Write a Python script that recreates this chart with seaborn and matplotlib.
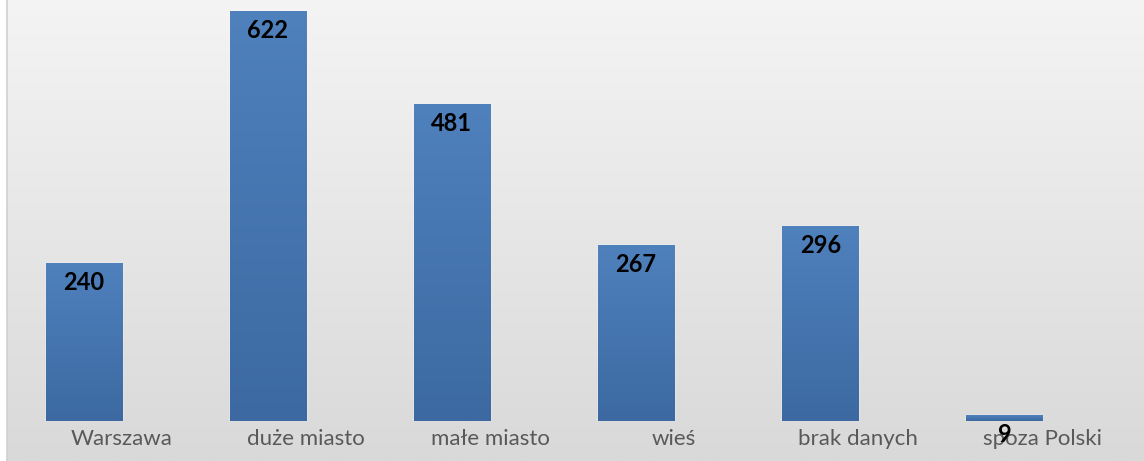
import numpy as np
import pandas as pd
import matplotlib
matplotlib.use('Agg')
import matplotlib.pyplot as plt
import seaborn as sns
from matplotlib.colors import LinearSegmentedColormap

# dane
kategorie = ['Warszawa', 'duże miasto', 'małe miasto', 'wieś', 'brak danych', 'spoza Polski']
liczby = [240, 622, 481, 267, 296, 9]

df = pd.DataFrame({'kategoria': kategorie, 'liczba': liczby})

sns.set_style('white')
plt.rcParams['font.family'] = ['Lato', 'DejaVu Sans']

fig = plt.figure(figsize=(11.44, 4.61), dpi=100)
fig.patch.set_facecolor('white')

# tlo z gradientem
bg = fig.add_axes([7 / 1144, 0, 1 - 7 / 1144, 1], zorder=0)
grad = np.linspace(0, 1, 256).reshape(-1, 1)
bg_cmap = LinearSegmentedColormap.from_list('bg', ['#f4f4f4', '#d9d9d9'])
bg.imshow(grad, aspect='auto', cmap=bg_cmap, extent=[0, 1, 1, 0])
bg.set_axis_off()
fig.add_artist(plt.Line2D([6.5 / 1144] * 2, [0, 1], color='#d0d0d0', lw=1.2))

# wykres
x0 = 7 / 1144
ax = fig.add_axes([x0, 40 / 461, 1 - x0, 1 - 40 / 461], zorder=1)
ax.patch.set_alpha(0)

sns.barplot(data=df, x='kategoria', y='liczba', color='#4a7ab5', width=0.413, ax=ax,
            saturation=1)

# gradient na slupkach
bar_cmap = LinearSegmentedColormap.from_list('bar', ['#3c69a1', '#4f81bd'])
for p in ax.patches:
    x, w, h = p.get_x(), p.get_width(), p.get_height()
    im = ax.imshow(grad, aspect='auto', cmap=bar_cmap,
                   extent=[x, x + w, 0, h], origin='lower', zorder=2)
    im.set_clip_path(p)
    ax.annotate(f'{int(h)}', (x + w / 2, h), xytext=(0, -6), textcoords='offset points',
                ha='center', va='top', fontsize=17, fontweight='bold', color='black',
                zorder=5)

ax.set_xlim(-0.416, 5.758)
ax.set_ylim(0, 421 / 0.6592)
ax.set_xticks(np.arange(len(kategorie)) + 0.207)
ax.set_xticklabels(kategorie, fontsize=16, color='#595959')
ax.tick_params(axis='x', length=0, pad=6)
ax.set_yticks([])
ax.set_xlabel('')
ax.set_ylabel('')
for s in ax.spines.values():
    s.set_visible(False)

fig.savefig('out.png', dpi=100)
